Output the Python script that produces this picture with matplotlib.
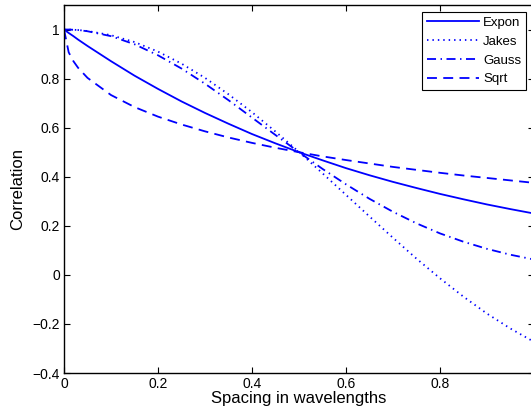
import matplotlib
matplotlib.use("Agg")
import matplotlib.pyplot as plt

plt.rcParams['font.family'] = ['Liberation Sans', 'DejaVu Sans']

# spacing in wavelengths
x = [0, 0.01, 0.02, 0.03, 0.05, 0.1, 0.15, 0.2, 0.25, 0.3, 0.35, 0.4, 0.45, 0.5,
     0.55, 0.6, 0.65, 0.7, 0.75, 0.8, 0.85, 0.9, 0.95, 1.0]

expon = [1.0, 0.986, 0.973, 0.959, 0.933, 0.871, 0.812, 0.758, 0.707, 0.66, 0.616,
         0.574, 0.536, 0.5, 0.467, 0.435, 0.406, 0.379, 0.354, 0.33, 0.308, 0.287,
         0.268, 0.25]
jakes = [1.0, 1.0, 0.999, 0.998, 0.994, 0.977, 0.949, 0.910, 0.861, 0.803, 0.736,
         0.663, 0.584, 0.501, 0.414, 0.326, 0.238, 0.151, 0.066, -0.014, -0.089,
         -0.158, -0.219, -0.273]
gauss = [1.0, 1.0, 0.999, 0.998, 0.993, 0.973, 0.94, 0.895, 0.841, 0.779, 0.712,
         0.641, 0.57, 0.5, 0.432, 0.369, 0.31, 0.257, 0.21, 0.169, 0.135, 0.106,
         0.082, 0.0625]
sqrt_c = [1.0, 0.907, 0.871, 0.844, 0.803, 0.733, 0.684, 0.645, 0.613, 0.585, 0.56,
          0.538, 0.518, 0.5, 0.483, 0.468, 0.454, 0.44, 0.428, 0.416, 0.405, 0.395,
          0.385, 0.375]

labels = ['Expon', 'Jakes', 'Gauss', 'Sqrt']
xticks = [0, 0.2, 0.4, 0.6, 0.8, 1]
yticks = [-0.4, -0.2, 0, 0.2, 0.4, 0.6, 0.8, 1]

fig = plt.figure(figsize=(5.31, 4.15), dpi=100)
ax = fig.add_axes([64 / 531, 42 / 415, 470 / 531, 368 / 415])

blue = (0, 0, 1)
lw = 1.3
ax.plot(x, expon, color=blue, lw=lw, label=labels[0])
ax.plot(x, jakes, color=blue, lw=lw, linestyle=(0, (0.8, 2.2)), label=labels[1])
ax.plot(x, gauss, color=blue, lw=lw, linestyle=(0, (5, 2.5, 0.8, 2.5)), label=labels[2])
ax.plot(x, sqrt_c, color=blue, lw=lw, linestyle=(0, (5.5, 3.5)), label=labels[3])

ax.set_xlim(0, 1)
ax.set_ylim(-0.4, 1.1)
ax.set_xticks(xticks)
ax.set_xticklabels(['0', '0.2', '0.4', '0.6', '0.8', '1'])
ax.set_yticks(yticks)
ax.set_yticklabels(['\u22120.4', '\u22120.2', '0', '0.2', '0.4', '0.6', '0.8', '1'])
ax.tick_params(direction='in', length=4, width=0.8, top=True, right=True,
               labelsize=10, pad=3)
for s in ax.spines.values():
    s.set_linewidth(1.0)

ax.set_xlabel('Spacing in wavelengths', fontsize=12, labelpad=0)
ax.set_ylabel('Correlation', fontsize=12, labelpad=5)

leg = ax.legend(loc='upper right', bbox_to_anchor=(462 / 470, 361 / 368),
                borderaxespad=0, fontsize=9.5, handlelength=4.0, handletextpad=0.3,
                labelspacing=0.5, borderpad=0.35, fancybox=False, framealpha=1)
leg.get_frame().set_edgecolor('black')
leg.get_frame().set_linewidth(0.8)

fig.savefig('out.png', dpi=100)
